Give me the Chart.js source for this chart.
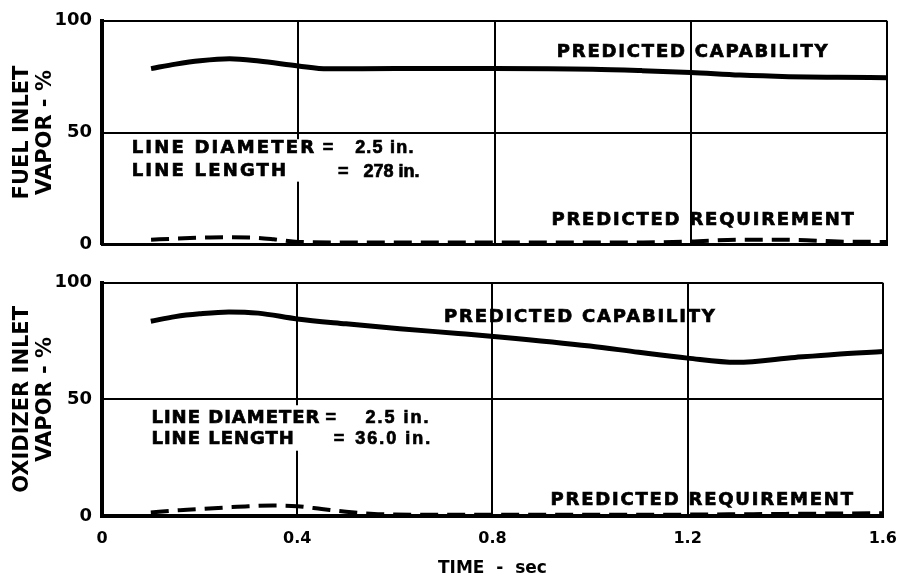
<!DOCTYPE html>
<html>
<head>
<meta charset="utf-8">
<script src="https://cdn.jsdelivr.net/npm/chart.js@4.4.0/dist/chart.umd.min.js"></script>
<style>
  html, body { margin: 0; padding: 0; background: #fff; }
  #wrap { position: relative; width: 910px; height: 580px; }
  .panel { position: absolute; left: 0; width: 910px; }
  #fuelBox { top: 0; height: 265px; }
  #oxBox { top: 262px; height: 318px; }
</style>
</head>
<body>
<div id="wrap">
  <div class="panel" id="fuelBox"><canvas id="fuelChart"></canvas></div>
  <div class="panel" id="oxBox"><canvas id="oxChart"></canvas></div>
</div>
<script>
// truc thoi gian (sec) va truc % hoi
const timeTickLabels = ['0', '0.4', '0.8', '1.2', '1.6'];
const vaporTickLabels = ['0', '50', '100'];

// FUEL INLET - predicted capability
const fuelCapTime  = [0.1, 0.15, 0.2, 0.26, 0.32, 0.4, 0.46, 0.6, 0.8, 1.0, 1.1, 1.2, 1.3, 1.4, 1.5, 1.6];
const fuelCapVapor = [78.6, 80.6, 82.1, 83.0, 82.0, 79.8, 78.5, 78.6, 78.6, 78.3, 77.7, 76.9, 75.7, 75.0, 74.7, 74.5];

// FUEL INLET - predicted requirement
const fuelReqTime  = [0.1, 0.15, 0.2, 0.25, 0.3, 0.35, 0.4, 0.5, 0.8, 1.1, 1.2, 1.3, 1.4, 1.5, 1.6];
const fuelReqVapor = [2.0, 2.5, 2.9, 3.1, 3.0, 2.2, 1.0, 0.8, 0.8, 0.8, 1.2, 2.0, 2.0, 1.2, 1.0];

// OXIDIZER INLET - predicted capability
const oxCapTime  = [0.1, 0.15, 0.2, 0.26, 0.32, 0.4, 0.5, 0.61, 0.73, 0.82, 1.0, 1.1, 1.2, 1.3, 1.42, 1.5, 1.6];
const oxCapVapor = [83.5, 85.5, 86.7, 87.5, 87.0, 84.5, 82.4, 80.3, 78.3, 76.7, 72.9, 70.2, 67.7, 65.9, 68.0, 69.3, 70.5];

// OXIDIZER INLET - predicted requirement
const oxReqTime  = [0.1, 0.15, 0.2, 0.25, 0.3, 0.35, 0.4, 0.45, 0.5, 0.55, 0.6, 0.8, 1.0, 1.2, 1.4, 1.6];
const oxReqVapor = [1.5, 2.4, 3.0, 3.6, 4.2, 4.5, 4.2, 3.0, 1.8, 1.0, 0.6, 0.5, 0.5, 0.6, 0.9, 1.2];

Chart.defaults.font.family = '"DejaVu Sans", sans-serif';
Chart.defaults.font.weight = 'bold';
Chart.defaults.color = '#000';

const WIDE = 'bold 18px "DejaVu Sans"';
const NARROW = 'bold 18px "Liberation Sans"';

function toPoints(xs, ys) {
    return xs.map((t, i) => ({ x: t, y: ys[i] }));
}

// Ghi chu van ban dat theo toa do du lieu
function notesPlugin(notes, boxes) {
    return {
        id: 'notes',
        afterDatasetsDraw(chart) {
            const { ctx, scales: { x, y } } = chart;
            ctx.save();
            ctx.fillStyle = '#fff';
            boxes.forEach(b => {
                const x1 = x.getPixelForValue(b.x1), x2 = x.getPixelForValue(b.x2);
                const y1 = y.getPixelForValue(b.y1), y2 = y.getPixelForValue(b.y2);
                ctx.fillRect(Math.min(x1, x2), Math.min(y1, y2), Math.abs(x2 - x1), Math.abs(y2 - y1));
            });
            ctx.fillStyle = '#000';
            ctx.strokeStyle = '#000';
            ctx.lineWidth = 0.7;
            ctx.textBaseline = 'middle';
            ctx.textAlign = 'left';
            notes.forEach(n => {
                const px = x.getPixelForValue(n.x), py = y.getPixelForValue(n.y);
                ctx.font = n.font || WIDE;
                ctx.letterSpacing = (n.spacing != null ? n.spacing : 1.8) + 'px';
                ctx.fillText(n.text, px, py);
                ctx.strokeText(n.text, px, py);
            });
            ctx.restore();
        }
    };
}

function makePanel(canvasId, cfg) {
    const ctx = document.getElementById(canvasId);
    return new Chart(ctx.getContext('2d'), {
        type: 'line',
        data: {
            datasets: [
                {
                    label: 'PREDICTED CAPABILITY',
                    data: cfg.capability,
                    borderColor: '#000',
                    borderWidth: 5,
                    pointRadius: 0,
                    cubicInterpolationMode: 'monotone',
                    fill: false,
                    clip: 10
                },
                {
                    label: 'PREDICTED REQUIREMENT',
                    data: cfg.requirement,
                    borderColor: '#000',
                    borderWidth: 4,
                    borderDash: [18, 9],
                    pointRadius: 0,
                    cubicInterpolationMode: 'monotone',
                    fill: false,
                    clip: 10
                }
            ]
        },
        options: {
            responsive: true,
            maintainAspectRatio: false,
            animation: false,
            layout: { padding: { top: cfg.padTop, right: 23, bottom: 0, left: 0 } },
            plugins: {
                legend: { display: false },
                tooltip: { enabled: false }
            },
            scales: {
                x: {
                    type: 'linear',
                    min: 0,
                    max: 1.6,
                    grid: { color: '#000', lineWidth: 2, drawTicks: false },
                    border: { display: true, color: '#000', width: cfg.bottomBorder },
                    ticks: {
                        display: cfg.showTime,
                        stepSize: 0.4,
                        padding: 13,
                        maxRotation: 0,
                        font: { size: 16, weight: 'bold' },
                        callback: (v, i) => timeTickLabels[i]
                    },
                    title: {
                        display: cfg.showTime,
                        text: 'TIME  -  sec',
                        font: { size: 17, weight: 'bold' },
                        padding: { top: 0, bottom: 1 }
                    },
                    afterFit: s => { s.height = cfg.xHeight; }
                },
                y: {
                    min: 0,
                    max: 100,
                    grid: { color: '#000', lineWidth: 2, drawTicks: false },
                    border: { display: true, color: '#000', width: 4 },
                    ticks: {
                        stepSize: 50,
                        padding: 10,
                        font: { size: 18, weight: 'bold' },
                        callback: (v, i) => vaporTickLabels[i]
                    },
                    title: {
                        display: true,
                        text: cfg.yTitle,
                        font: { size: 21, weight: 'bold', lineHeight: 1.05 },
                        padding: { top: 12, bottom: 0 }
                    },
                    afterFit: s => { s.width = 102; }
                }
            }
        },
        plugins: [notesPlugin(cfg.notes, cfg.boxes)]
    });
}

makePanel('fuelChart', {
    capability: toPoints(fuelCapTime, fuelCapVapor),
    requirement: toPoints(fuelReqTime, fuelReqVapor),
    yTitle: ['FUEL INLET', 'VAPOR - %'],
    padTop: 16,
    xHeight: 13,
    bottomBorder: 3,
    showTime: false,
    boxes: [{ x1: 0.05, x2: 0.65, y1: 47, y2: 28 }],
    notes: [
        { text: 'PREDICTED CAPABILITY', x: 0.927, y: 85.7 },
        { text: 'PREDICTED REQUIREMENT', x: 0.916, y: 10.6 },
        { text: 'LINE DIAMETER', x: 0.0605, y: 42.9, spacing: 2.2 },
        { text: '=', x: 0.450, y: 42.9, font: NARROW },
        { text: '2.5 in.', x: 0.516, y: 42.9, font: NARROW, spacing: 1.2 },
        { text: 'LINE LENGTH', x: 0.0605, y: 32.4, spacing: 2.2 },
        { text: '=', x: 0.481, y: 32.4, font: NARROW },
        { text: '278 in.', x: 0.533, y: 32.4, font: NARROW, spacing: 0 }
    ]
});

makePanel('oxChart', {
    capability: toPoints(oxCapTime, oxCapVapor),
    requirement: toPoints(oxReqTime, oxReqVapor),
    yTitle: ['OXIDIZER INLET', 'VAPOR - %'],
    padTop: 12,
    xHeight: 64,
    bottomBorder: 4,
    showTime: true,
    boxes: [{ x1: 0.085, x2: 0.69, y1: 47.5, y2: 28 }],
    notes: [
        { text: 'PREDICTED CAPABILITY', x: 0.701, y: 85.4 },
        { text: 'PREDICTED REQUIREMENT', x: 0.919, y: 6.9 },
        { text: 'LINE DIAMETER', x: 0.1013, y: 41.9, spacing: 1.0 },
        { text: '=', x: 0.458, y: 41.9, font: NARROW },
        { text: '2.5 in.', x: 0.540, y: 41.9, font: NARROW, spacing: 2 },
        { text: 'LINE LENGTH', x: 0.1013, y: 32.9, spacing: 1.0 },
        { text: '=', x: 0.475, y: 32.9, font: NARROW },
        { text: '36.0 in.', x: 0.519, y: 32.9, font: NARROW, spacing: 2 }
    ]
});
</script>
</body>
</html>
